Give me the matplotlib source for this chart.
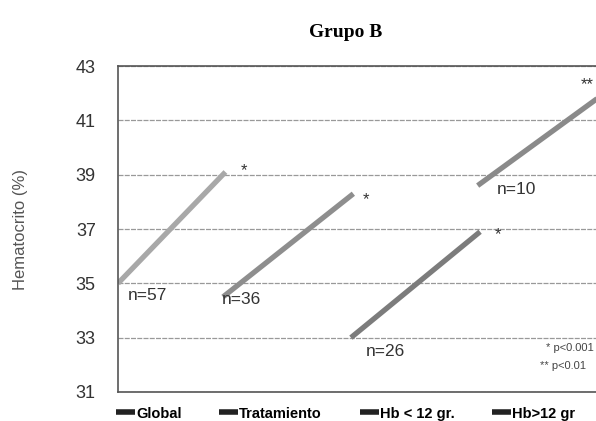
import matplotlib.pyplot as plt

# data
groups = ["Global", "Tratamiento", "Hb < 12 gr.", "Hb>12 gr"]
hto_start = [35.0, 34.5, 33.0, 38.6]
hto_end = [39.1, 38.3, 36.9, 41.9]
n_labels = ["n=57", "n=36", "n=26", "n=10"]
signif = ["*", "*", "*", "**"]

# horizontal placement of each segment
x_start = [0.0, 0.87, 1.93, 2.98]
x_end = [0.89, 1.95, 3.0, 4.0]
colors = ["#a8a8a8", "#8e8e8e", "#7c7c7c", "#8a8a8a"]
n_pos = [(0.08, 34.55), (0.86, 34.4), (2.05, 32.5), (3.14, 38.45)]
star_pos = [(1.02, 39.15), (2.03, 38.1), (3.12, 36.8), (3.83, 42.3)]

fig = plt.figure(figsize=(5.96, 4.21), dpi=100)
ax = fig.add_axes([0.198, 0.069, 0.81, 0.774])

for i in range(len(groups)):
    ax.plot([x_start[i], x_end[i]], [hto_start[i], hto_end[i]],
            color=colors[i], lw=3.8, solid_capstyle='butt', label=groups[i])
    ax.text(n_pos[i][0], n_pos[i][1], n_labels[i], fontsize=12.5,
            color="#333333", ha='left', va='center', family='Liberation Sans')
    ax.text(star_pos[i][0], star_pos[i][1], signif[i], fontsize=12,
            color="#333333", ha='left', va='center', family='Liberation Sans')

ax.text(3.55, 32.5, "* p<0.001", fontsize=8, color="#444444", family='Liberation Sans')
ax.text(3.5, 31.85, "** p<0.01", fontsize=8, color="#444444", family='Liberation Sans')

ax.set_xlim(0, 4.0)
ax.set_ylim(31, 43)
ax.set_yticks(range(31, 44, 2))
ax.set_xticks([])
ax.yaxis.grid(True, color="#999999", lw=0.9, ls=(0, (4, 1)))
ax.set_axisbelow(True)
ax.tick_params(axis='y', labelsize=13, colors="#333333", length=0, pad=16)
for lbl in ax.get_yticklabels():
    lbl.set_family('Liberation Sans')
for s in ['left', 'bottom', 'top']:
    ax.spines[s].set_color("#555555")
    ax.spines[s].set_linewidth(1.2)
ax.spines['right'].set_visible(False)

ax.set_ylabel("Hematocrito (%)", fontsize=12, color="#555555",
              family='Liberation Sans', labelpad=34)
fig.text(0.58, 0.922, "Grupo B", fontsize=14, fontweight='bold',
         family='Liberation Serif', ha='center', va='center')

fig.legend(loc='lower center', bbox_to_anchor=(0.58, -0.03), ncol=4,
           frameon=False, handlelength=1.3, handletextpad=0.05, columnspacing=2.6,
           prop={'family': 'Liberation Sans', 'weight': 'bold', 'size': 10.5})
for h in fig.legends[0].legend_handles:
    h.set_color("#222222")
    h.set_linewidth(4)

fig.savefig("out.png", dpi=100)
